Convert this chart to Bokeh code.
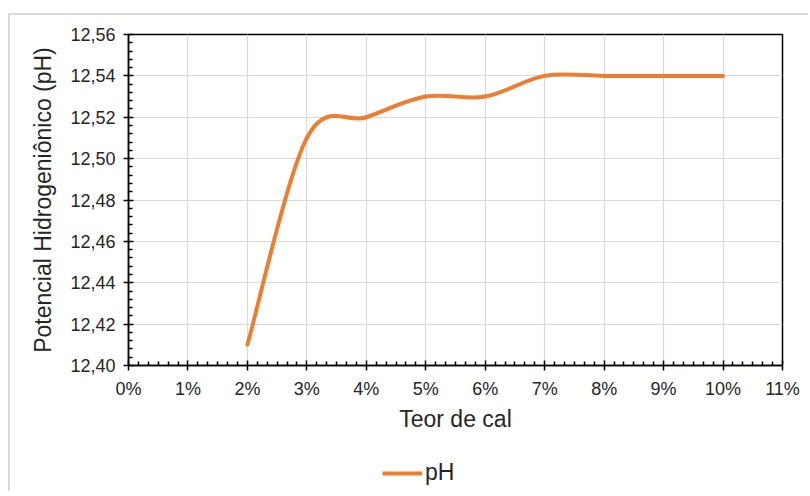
from bokeh.plotting import figure
from bokeh.layouts import column
from bokeh.models import (ColumnDataSource, FixedTicker, CustomJSTickFormatter,
                          Range1d, Legend, LegendItem)
from bokeh.embed import file_html
from bokeh.resources import INLINE

# ---- data ----
teor_cal = [2, 3, 4, 5, 6, 7, 8, 9, 10]          # %
ph = [12.41, 12.51, 12.52, 12.53, 12.53, 12.54, 12.54, 12.54, 12.54]
x_ticks = list(range(0, 12))
y_ticks = [12.40, 12.42, 12.44, 12.46, 12.48, 12.50, 12.52, 12.54, 12.56]
series_name = "pH"
x_title = "Teor de cal"
y_title = "Potencial Hidrogeniônico (pH)"

# ---- smoothed (Catmull-Rom / Excel-like) bezier segments ----
n = len(teor_cal)
def pt(i):
    i = max(0, min(n - 1, i))
    return teor_cal[i], ph[i]

seg = dict(x0=[], y0=[], x1=[], y1=[], cx0=[], cy0=[], cx1=[], cy1=[])
t = 1 / 6
for i in range(n - 1):
    xa_, ya_ = pt(i - 1); xb, yb = pt(i); xc, yc = pt(i + 1); xd, yd = pt(i + 2)
    seg["x0"].append(xb); seg["y0"].append(yb)
    seg["x1"].append(xc); seg["y1"].append(yc)
    seg["cx0"].append(xb + (xc - xa_) * t); seg["cy0"].append(yb + (yc - ya_) * t)
    seg["cx1"].append(xc - (xd - xb) * t); seg["cy1"].append(yc - (yd - yb) * t)
src = ColumnDataSource(seg)

FONT = "Liberation Sans"
TXT = "#262626"
ORANGE = "#ED7D31"

p = figure(width=798, height=430, output_backend="svg", toolbar_location=None,
           x_range=Range1d(0, 11), y_range=Range1d(12.40, 12.56),
           min_border_left=118, min_border_right=26, min_border_top=19,
           min_border_bottom=80)
p.background_fill_color = "white"
p.border_fill_color = "white"
p.outline_line_color = "black"
p.outline_line_width = 1.5

r = p.bezier(x0="x0", y0="y0", x1="x1", y1="y1", cx0="cx0", cy0="cy0",
             cx1="cx1", cy1="cy1", source=src, line_color=ORANGE, line_width=4,
             line_cap="round")

minor_x = [i / 6 for i in range(0, 67) if i % 6]
minor_y = [12.40 + i * 0.004 for i in range(0, 41) if i % 5]

xa = p.xaxis[0]
xa.ticker = FixedTicker(ticks=x_ticks, minor_ticks=minor_x)
xa.formatter = CustomJSTickFormatter(code="return tick.toFixed(0) + '%';")
ya = p.yaxis[0]
ya.ticker = FixedTicker(ticks=y_ticks, minor_ticks=minor_y)
ya.formatter = CustomJSTickFormatter(code="return tick.toFixed(2).replace('.', ',');")

for ax in (xa, ya):
    ax.axis_line_color = "black"
    ax.axis_line_width = 1.5
    ax.major_tick_line_color = "black"
    ax.major_tick_line_width = 1.5
    ax.minor_tick_line_color = "black"
    ax.minor_tick_line_width = 1.5
    ax.major_tick_in = 5
    ax.major_tick_out = 5
    ax.minor_tick_in = 4
    ax.minor_tick_out = 0
    ax.major_label_text_font = FONT
    ax.major_label_text_font_size = "18px"
    ax.major_label_text_color = TXT
    ax.axis_label_text_font = FONT
    ax.axis_label_text_font_size = "23px"
    ax.axis_label_text_font_style = "normal"
    ax.axis_label_text_color = TXT

xa.axis_label = x_title
ya.axis_label = y_title
xa.major_label_standoff = 8
xa.axis_label_standoff = 4
ya.major_label_standoff = 8
ya.axis_label_standoff = 11

p.xgrid.ticker = FixedTicker(ticks=x_ticks)
p.ygrid.ticker = FixedTicker(ticks=y_ticks)
for g in (p.xgrid[0], p.ygrid[0]):
    g.grid_line_color = "#d9d9d9"
    g.grid_line_width = 1.2

# ---- legend strip below the chart ----
p2 = figure(width=798, height=46, output_backend="svg", toolbar_location=None,
            x_range=Range1d(0, 1), y_range=Range1d(0, 1),
            min_border_left=0, min_border_right=0, min_border_top=0,
            min_border_bottom=0)
p2.axis.visible = False
p2.grid.visible = False
p2.outline_line_color = None
p2.background_fill_color = "white"
p2.border_fill_color = "white"
nan = float("nan")
key = p2.line(x=[nan], y=[nan], line_color=ORANGE, line_width=4)
legend = Legend(items=[LegendItem(label=series_name, renderers=[key])],
                orientation="horizontal", location=(254, 5),
                label_text_font=FONT, label_text_font_size="23px",
                label_text_color=TXT, glyph_width=40, glyph_height=24,
                label_standoff=3, border_line_color=None,
                background_fill_alpha=0, margin=0, padding=0)
p2.add_layout(legend, "center")

layout = column(p, p2, spacing=0)
layout.styles = {"border-left": "2px solid #d9d9d9", "border-top": "2px solid #d9d9d9"}
layout.margin = (13, 0, 0, 8)

open("out.html", "w").write(file_html(layout, INLINE))
